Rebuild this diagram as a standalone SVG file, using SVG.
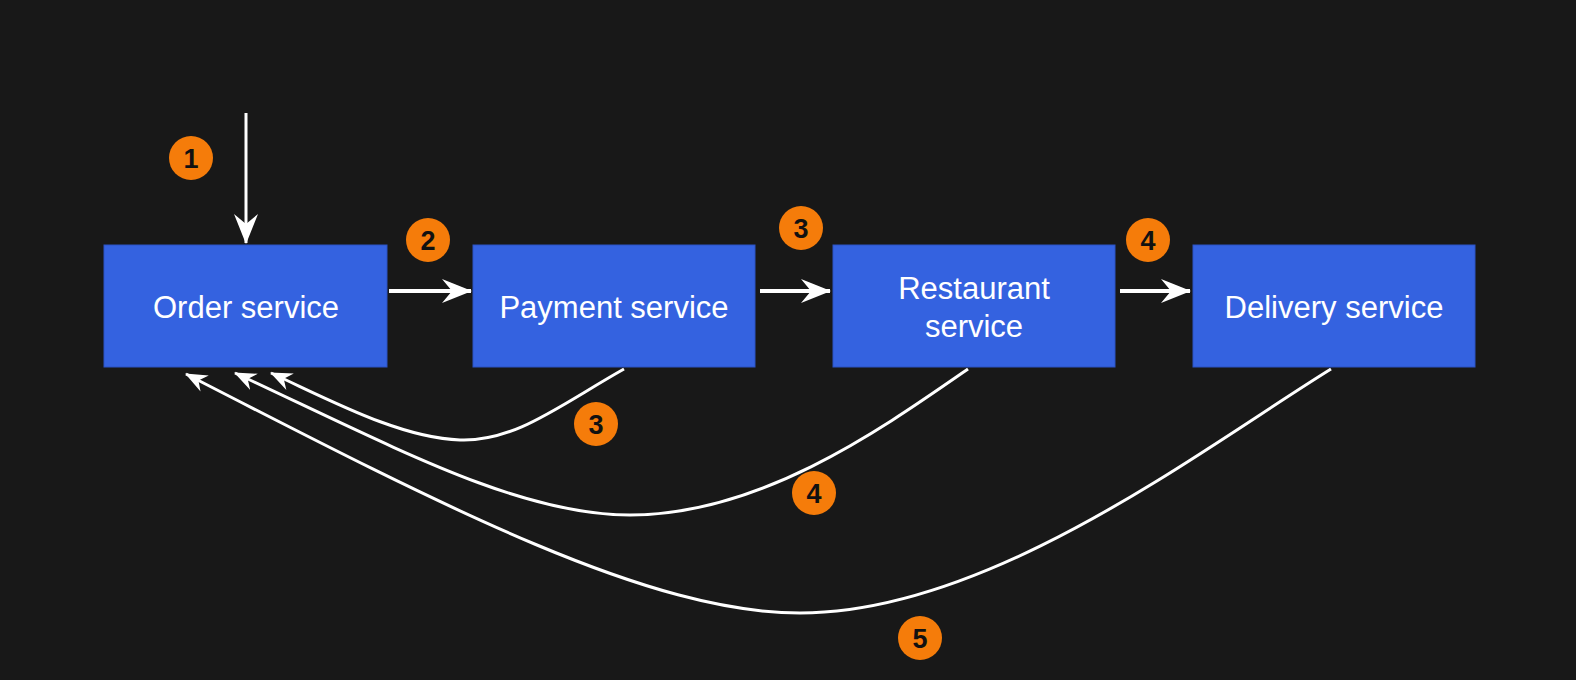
<svg xmlns="http://www.w3.org/2000/svg" width="1576" height="680" viewBox="0 0 1576 680">
<defs>
<style>
.box{fill:#3462e0;stroke:#2a52c4;stroke-width:1}
.lbl{font-family:"Liberation Sans",Arial,sans-serif;font-size:31px;fill:#ffffff;text-anchor:middle}
.badge circle{fill:#f57c0a}
.badge text{font-family:"Liberation Sans",Arial,sans-serif;font-size:27px;font-weight:bold;fill:#111111;text-anchor:middle}
.conn{stroke:#ffffff;fill:none}
</style>
<marker id="ah" viewBox="0 0 30 26" refX="29" refY="13" markerWidth="30" markerHeight="26" markerUnits="userSpaceOnUse" orient="auto">
<path d="M0,1 L30,13 L0,25 L10,13 Z" fill="#ffffff"/>
</marker>
<marker id="ah2" viewBox="0 0 22 20" refX="21" refY="10" markerWidth="22" markerHeight="20" markerUnits="userSpaceOnUse" orient="auto">
<path d="M0,1 L22,10 L0,19 L7,10 Z" fill="#ffffff"/>
</marker>
</defs>
<rect width="1576" height="680" fill="#181818"/>
<g id="connectors">
<line class="conn" x1="246" y1="113" x2="246" y2="243" stroke-width="3" marker-end="url(#ah)"/>
<line class="conn" x1="389" y1="291" x2="471" y2="291" stroke-width="4" marker-end="url(#ah)"/>
<line class="conn" x1="760" y1="291" x2="830" y2="291" stroke-width="4" marker-end="url(#ah)"/>
<line class="conn" x1="1120" y1="291" x2="1190" y2="291" stroke-width="4" marker-end="url(#ah)"/>
<path class="conn" stroke-width="3" d="M624,369 C560,405 515,442 460,440 C400,438 330,400 271,373" marker-end="url(#ah2)"/>
<path class="conn" stroke-width="3" d="M968,369 C880,430 760,515 630,515 C520,515 400,450 235,373" marker-end="url(#ah2)"/>
<path class="conn" stroke-width="3" d="M1331,369 C1200,450 990,613 800,613 C650,613 450,510 186,374" marker-end="url(#ah2)"/>
</g>
<g id="order"><rect class="box" x="104" y="245" width="283" height="122"/><text class="lbl" x="246" y="318">Order service</text></g>
<g id="payment"><rect class="box" x="473" y="245" width="282" height="122"/><text class="lbl" x="614" y="318">Payment service</text></g>
<g id="restaurant"><rect class="box" x="833" y="245" width="282" height="122"/><text class="lbl" x="974" y="299">Restaurant</text><text class="lbl" x="974" y="337">service</text></g>
<g id="delivery"><rect class="box" x="1193" y="245" width="282" height="122"/><text class="lbl" x="1334" y="318">Delivery service</text></g>
<g id="b1" class="badge"><circle cx="191" cy="158" r="22"/><text x="191" y="168">1</text></g>
<g id="b2" class="badge"><circle cx="428" cy="240" r="22"/><text x="428" y="250">2</text></g>
<g id="b3a" class="badge"><circle cx="801" cy="228" r="22"/><text x="801" y="238">3</text></g>
<g id="b4a" class="badge"><circle cx="1148" cy="240" r="22"/><text x="1148" y="250">4</text></g>
<g id="b3b" class="badge"><circle cx="596" cy="424" r="22"/><text x="596" y="434">3</text></g>
<g id="b4b" class="badge"><circle cx="814" cy="493" r="22"/><text x="814" y="503">4</text></g>
<g id="b5" class="badge"><circle cx="920" cy="638" r="22"/><text x="920" y="648">5</text></g>
</svg>
